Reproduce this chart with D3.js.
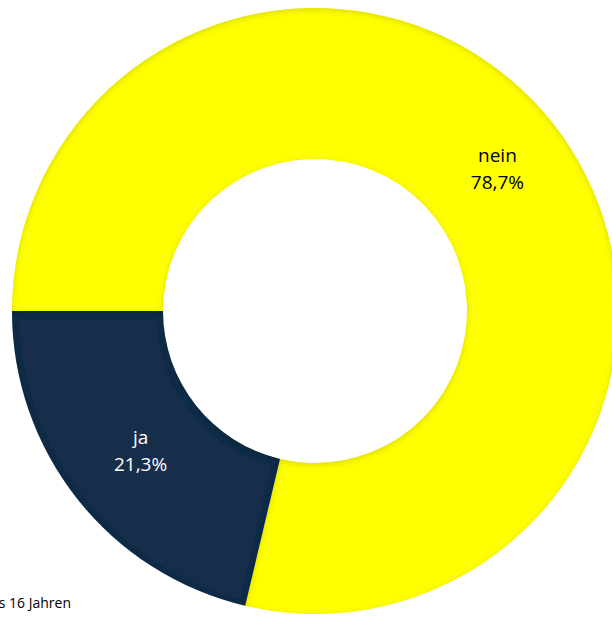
<!DOCTYPE html>
<html>
<head>
<meta charset="utf-8">
<script src="https://cdn.jsdelivr.net/npm/d3@7"></script>
<style>
  body { margin: 0; background: #fff; }
  svg { display: block; }
</style>
</head>
<body>
<div id="chart"></div>
<script>
(function () {
    var width = 612, height = 617;

    // data
    var labels = ["nein", "ja"];
    var values = [78.7, 21.3];
    var colors = ["#FFFF00", "#182D4A"];
    var footnote = "bis 16 Jahren";

    var cx = 315, cy = 311;
    var outerR = 303, innerR = 152;

    var svg = d3.select("#chart")
        .append("svg")
        .attr("width", width)
        .attr("height", height);

    var defs = svg.append("defs");

    // soft bevel / inner shadow like the office chart style
    var f = defs.append("filter")
        .attr("id", "bevel")
        .attr("x", "-5%").attr("y", "-5%")
        .attr("width", "110%").attr("height", "110%");
    f.append("feGaussianBlur").attr("in", "SourceAlpha").attr("stdDeviation", 3).attr("result", "blur");
    f.append("feOffset").attr("in", "blur").attr("dx", 0).attr("dy", 2).attr("result", "off");
    f.append("feComposite").attr("in", "SourceAlpha").attr("in2", "off")
        .attr("operator", "out").attr("result", "inv");
    f.append("feFlood").attr("flood-color", "#000").attr("flood-opacity", 0.3).attr("result", "col");
    f.append("feComposite").attr("in", "col").attr("in2", "inv").attr("operator", "in").attr("result", "shadow");
    var m = f.append("feMerge");
    m.append("feMergeNode").attr("in", "SourceGraphic");
    m.append("feMergeNode").attr("in", "shadow");

    var data = labels.map(function (d, i) {
        return { label: d, value: values[i], color: colors[i] };
    });

    var pie = d3.pie()
        .value(function (d) { return d.value; })
        .sort(null)
        .startAngle(-Math.PI / 2)
        .endAngle(-Math.PI / 2 + 2 * Math.PI);

    var arc = d3.arc()
        .innerRadius(innerR)
        .outerRadius(outerR);

    var g = svg.append("g")
        .attr("transform", "translate(" + cx + "," + cy + ")");

    var arcs = pie(data);

    g.selectAll(".slice")
        .data(arcs)
        .enter().append("path")
        .attr("class", "slice")
        .attr("d", arc)
        .attr("fill", function (d) { return d.data.color; })
        .attr("filter", "url(#bevel)");

    var lbl = g.selectAll(".lbl")
        .data(arcs)
        .enter().append("text")
        .attr("class", "lbl")
        .attr("text-anchor", "middle")
        .attr("font-family", "Open Sans, sans-serif")
        .attr("font-size", "19px")
        .attr("fill", function (d, i) { return i === 0 ? "#000" : "#fff"; })
        .attr("transform", function (d) {
            var c = arc.centroid(d);
            return "translate(" + (c[0] + 4) + "," + c[1] + ")";
        });

    lbl.append("tspan")
        .attr("x", 0)
        .attr("y", -8)
        .text(function (d) { return d.data.label; });

    lbl.append("tspan")
        .attr("x", 0)
        .attr("y", 19)
        .text(function (d) { return d3.format(".1f")(d.data.value).replace(".", ",") + "%"; });

    svg.append("text")
        .attr("x", 71)
        .attr("y", 608)
        .attr("text-anchor", "end")
        .attr("font-family", "Open Sans, sans-serif")
        .attr("font-size", "14px")
        .attr("fill", "#000")
        .text(footnote);
})();
</script>
</body>
</html>
